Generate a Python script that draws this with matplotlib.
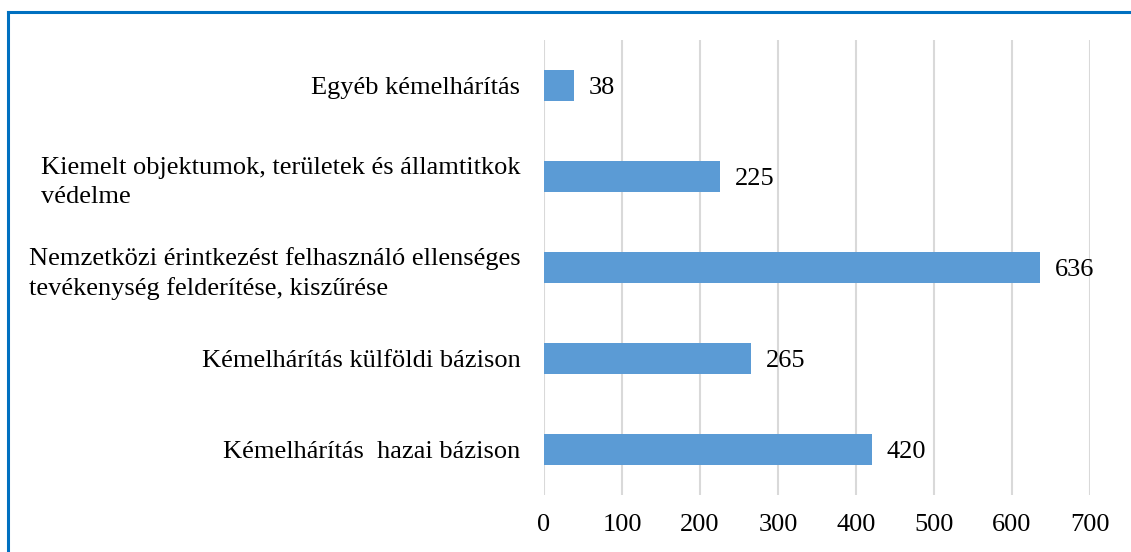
import matplotlib.pyplot as plt
from matplotlib.lines import Line2D

categories = [
  "Kémelhárítás  hazai bázison",
  "Kémelhárítás külföldi bázison",
  "Nemzetközi érintkezést felhasználó ellenséges\ntevékenység felderítése, kiszűrése",
  "Kiemelt objektumok, területek és államtitkok\nvédelme",
  "Egyéb kémelhárítás",
]
values = [420, 265, 636, 225, 38]
xticks = [0, 100, 200, 300, 400, 500, 600, 700]

plt.rcParams['font.family'] = ['Liberation Serif', 'DejaVu Serif']
fs = 19

fig = plt.figure(figsize=(11.31, 5.52), dpi=100)
ax = fig.add_axes([544 / 1131, 57 / 552, (1090 - 544) / 1131, (495 - 40) / 552])

pos = list(range(len(categories)))
ax.barh(pos, values, height=0.35, color='#5B9BD5', zorder=3)
for p, v in zip(pos, values):
  ax.annotate(str(v), (v, p), xytext=(11, -2), textcoords='offset points',
              va='center', ha='left', fontsize=fs)

ax.set_xlim(0, 700)
ax.set_ylim(-0.5, 4.5)
ax.set_xticks(xticks)
ax.set_yticks(pos)
ax.set_yticklabels(categories, fontsize=fs, multialignment='left', linespacing=1.4)
ax.tick_params(axis='x', length=0, pad=14, labelsize=fs)
ax.tick_params(axis='y', length=0, pad=17)
ax.grid(axis='x', color='#D9D9D9', linewidth=1.5, zorder=0)
for s in ax.spines.values():
  s.set_visible(False)

# blue frame, cut on the right and bottom
fig.add_artist(Line2D([8 / 1131, 8 / 1131], [0, 1 - 12 / 552], color='#0070C0', linewidth=2.2, transform=fig.transFigure))
fig.add_artist(Line2D([8 / 1131, 1], [1 - 12 / 552, 1 - 12 / 552], color='#0070C0', linewidth=2.2, transform=fig.transFigure))

fig.savefig('out.png', dpi=100)
